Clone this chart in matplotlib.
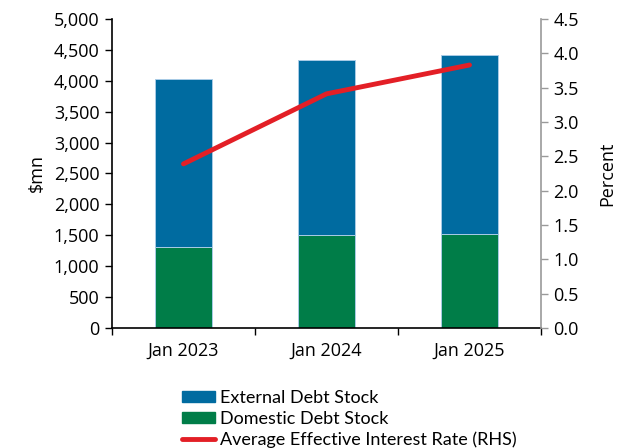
import matplotlib
matplotlib.use("Agg")
import matplotlib.pyplot as plt
from matplotlib.patches import Patch
from matplotlib.lines import Line2D
from matplotlib.ticker import FuncFormatter, MultipleLocator

# debt stock by source ($mn) and the average effective interest rate (%)
periods = ["Jan 2023", "Jan 2024", "Jan 2025"]
domestic_debt = [1310, 1500, 1520]
external_debt = [2720, 2830, 2900]
interest_rate = [2.39, 3.41, 3.83]

BLUE = "#006BA0"
GREEN = "#007D48"
RED = "#E31F26"
EDGE = "#A9CBE6"

plt.rcParams["font.family"] = ["Open Sans", "DejaVu Sans"]
plt.rcParams["font.size"] = 13

fig = plt.figure(figsize=(6.23, 4.48), dpi=100)
ax = fig.add_axes([112 / 623, 1 - 328 / 448, (541 - 112) / 623, (328 - 19) / 448])

x = list(range(len(periods)))
ax.bar(x, domestic_debt, width=0.4, color=GREEN, edgecolor=EDGE, linewidth=0.7, zorder=2)
ax.bar(x, external_debt, width=0.4, bottom=domestic_debt, color=BLUE,
       edgecolor=EDGE, linewidth=0.7, zorder=2)

ax.set_xlim(-0.5, 2.5)
ax.set_ylim(0, 5000)
ax.yaxis.set_major_locator(MultipleLocator(500))
ax.yaxis.set_major_formatter(FuncFormatter(lambda v, p: f"{int(v):,}"))
ax.set_ylabel("$mn", labelpad=6)

# category labels sit between the boundary ticks
ax.set_xticks([-0.5, 0.5, 1.5, 2.5])
ax.set_xticklabels([])
ax.set_xticks(x, minor=True)
ax.set_xticklabels(periods, minor=True)
ax.tick_params(axis="x", which="major", direction="out", length=5, width=1)
ax.tick_params(axis="x", which="minor", length=0, pad=10)
ax.tick_params(axis="y", direction="out", length=5, width=1, pad=4)

for side in ["top", "right"]:
    ax.spines[side].set_visible(False)
for side in ["left", "bottom"]:
    ax.spines[side].set_linewidth(1.2)

ax2 = ax.twinx()
ax2.plot(x, interest_rate, color=RED, linewidth=3.5, solid_capstyle="round", zorder=3)
ax2.set_ylim(0, 4.5)
ax2.yaxis.set_major_locator(MultipleLocator(0.5))
ax2.yaxis.set_major_formatter(FuncFormatter(lambda v, p: f"{v:.1f}"))
ax2.set_ylabel("Percent", labelpad=14)
ax2.tick_params(axis="y", direction="out", length=5, width=1, color="#999999", pad=4)
for side in ["top", "left", "bottom"]:
    ax2.spines[side].set_visible(False)
ax2.spines["right"].set_color("#999999")
ax2.spines["right"].set_linewidth(1.2)

handles = [
    Patch(facecolor=BLUE, edgecolor=BLUE),
    Patch(facecolor=GREEN, edgecolor=GREEN),
    Line2D([0], [0], color=RED, linewidth=3.5, solid_capstyle="round"),
]
labels = ["External Debt Stock", "Domestic Debt Stock", "Average Effective Interest Rate (RHS)"]
fig.legend(handles, labels, loc="upper left", bbox_to_anchor=(182 / 623, 1 - 390 / 448),
           frameon=False, handlelength=1.8, handleheight=0.6, handletextpad=0.3,
           labelspacing=0.27, borderpad=0, borderaxespad=0,
           prop={"family": ["Lato", "DejaVu Sans"], "size": 13})

fig.savefig("out.png", dpi=100)
